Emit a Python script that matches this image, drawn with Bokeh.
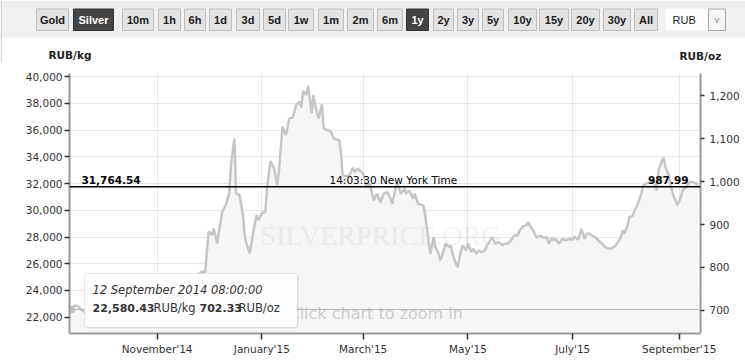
import pandas as pd
from bokeh.plotting import figure
from bokeh.models import (Range1d, LinearAxis, FixedTicker, NumeralTickFormatter,
                          Span, Label, BoxAnnotation, ColumnDataSource)
from bokeh.embed import file_html
from bokeh.resources import INLINE
from bokeh.core.properties import value

# ---------------- data ----------------
METALS = ["Gold", "Silver"]
PERIODS = ["10m", "1h", "6h", "1d", "3d", "5d", "1w", "1m", "2m", "6m", "1y",
           "2y", "3y", "5y", "10y", "15y", "20y", "30y", "All"]
SELECTED = ["Silver", "1y"]
CURRENCY = "RUB"
LEFT_UNIT = "RUB/kg"
RIGHT_UNIT = "RUB/oz"

DATES = [
    "2014-09-12", "2014-09-14", "2014-09-16", "2014-09-18", "2014-09-20", "2014-09-23",
    "2014-09-26", "2014-09-30", "2014-10-03", "2014-10-07", "2014-10-10", "2014-10-14",
    "2014-10-17", "2014-10-21", "2014-10-24", "2014-10-28", "2014-10-31", "2014-11-04",
    "2014-11-07", "2014-11-11", "2014-11-14", "2014-11-18", "2014-11-21", "2014-11-24",
    "2014-11-27", "2014-11-29", "2014-12-01", "2014-12-03", "2014-12-04", "2014-12-06",
    "2014-12-07", "2014-12-09", "2014-12-11", "2014-12-13", "2014-12-14", "2014-12-16",
    "2014-12-17", "2014-12-19", "2014-12-21", "2014-12-22", "2014-12-23", "2014-12-25",
    "2014-12-27", "2014-12-29", "2014-12-30", "2015-01-01", "2015-01-03", "2015-01-04",
    "2015-01-06", "2015-01-08", "2015-01-10", "2015-01-11", "2015-01-13", "2015-01-15",
    "2015-01-17", "2015-01-19", "2015-01-21", "2015-01-23", "2015-01-24", "2015-01-25",
    "2015-01-27", "2015-01-28", "2015-01-30", "2015-01-31", "2015-02-01", "2015-02-03",
    "2015-02-05", "2015-02-06", "2015-02-08", "2015-02-10", "2015-02-12", "2015-02-13",
    "2015-02-15", "2015-02-16", "2015-02-17", "2015-02-19", "2015-02-21", "2015-02-23",
    "2015-02-24", "2015-02-26", "2015-02-27", "2015-03-01", "2015-03-03", "2015-03-05",
    "2015-03-07", "2015-03-09", "2015-03-11", "2015-03-13", "2015-03-15", "2015-03-17",
    "2015-03-18", "2015-03-20", "2015-03-21", "2015-03-23", "2015-03-25", "2015-03-26",
    "2015-03-28", "2015-03-30", "2015-03-31", "2015-04-02", "2015-04-05", "2015-04-06",
    "2015-04-08", "2015-04-09", "2015-04-11", "2015-04-12", "2015-04-14", "2015-04-15",
    "2015-04-16", "2015-04-18", "2015-04-20", "2015-04-21", "2015-04-22", "2015-04-24",
    "2015-04-25", "2015-04-27", "2015-04-28", "2015-04-30", "2015-05-01", "2015-05-03",
    "2015-05-04", "2015-05-06", "2015-05-07", "2015-05-09", "2015-05-11", "2015-05-12",
    "2015-05-14", "2015-05-15", "2015-05-17", "2015-05-19", "2015-05-21", "2015-05-22",
    "2015-05-24", "2015-05-26", "2015-05-28", "2015-05-30", "2015-05-31", "2015-06-02",
    "2015-06-04", "2015-06-05", "2015-06-06", "2015-06-08", "2015-06-10", "2015-06-12",
    "2015-06-14", "2015-06-16", "2015-06-17", "2015-06-19", "2015-06-20", "2015-06-21",
    "2015-06-23", "2015-06-25", "2015-06-27", "2015-06-29", "2015-07-01", "2015-07-02",
    "2015-07-04", "2015-07-05", "2015-07-06", "2015-07-08", "2015-07-09", "2015-07-10",
    "2015-07-12", "2015-07-14", "2015-07-16", "2015-07-18", "2015-07-20", "2015-07-22",
    "2015-07-24", "2015-07-26", "2015-07-28", "2015-07-29", "2015-07-30", "2015-07-31",
    "2015-08-02", "2015-08-03", "2015-08-05", "2015-08-06", "2015-08-08", "2015-08-10",
    "2015-08-11", "2015-08-13", "2015-08-15", "2015-08-17", "2015-08-19", "2015-08-20",
    "2015-08-22", "2015-08-23", "2015-08-24", "2015-08-26", "2015-08-27", "2015-08-29",
    "2015-08-31", "2015-09-02", "2015-09-03", "2015-09-05", "2015-09-07", "2015-09-09",
    "2015-09-11", "2015-09-12",
]

RUB_PER_KG = [
    22580.43, 22880, 22820, 22550, 22400, 22500,
    22350, 21950, 21750, 22150, 22350, 22650,
    22750, 22500, 22400, 22700, 22550, 22250,
    23300, 23550, 24050, 24250, 24700, 25100,
    25400, 25400, 28400, 28140, 28640, 27520,
    28400, 29890, 30390, 31270, 33380, 35380,
    31270, 31140, 29640, 28140, 27520, 26770,
    28400, 29640, 29270, 29770, 29890, 31640,
    33680, 33140, 31890, 33010, 36260, 35630,
    36880, 36940, 37880, 38130, 37680, 38930,
    38630, 39330, 37260, 38630, 37880, 36880,
    37930, 36130, 36010, 35930, 35380, 35310,
    35260, 34390, 32640, 32520, 32640, 33190,
    32890, 33120, 32990, 32740, 31740, 31990,
    30740, 31240, 30610, 31240, 31360, 30870,
    30490, 31740, 31990, 31240, 31620, 31240,
    31490, 30870, 31240, 30490, 30370, 29740,
    27740, 26750, 27990, 27240, 26750, 26250,
    26620, 27500, 27240, 27370, 26750, 26000,
    25750, 27000, 27370, 27000, 27500, 26870,
    27120, 26750, 27000, 26870, 27000, 27370,
    27740, 27990, 27500, 27620, 27370, 27500,
    27500, 27740, 28120, 28120, 28490, 28790,
    28870, 29120, 28870, 28490, 27950, 28120,
    27950, 27990, 27500, 27950, 27740, 27870,
    27500, 27870, 27740, 27870, 27800, 28040,
    27800, 28120, 28620, 27870, 28190, 28290,
    28120, 27990, 27740, 27500, 27240, 27120,
    27170, 27370, 27740, 27950, 28490, 28250,
    28870, 29490, 29620, 29990, 30490, 31240,
    31860, 31990, 32110, 32240, 31490, 32990,
    33740, 33940, 33240, 32610, 31860, 30990,
    30370, 30990, 31490, 31740, 32110, 32110,
    31990, 31860,
]

CURRENT_PRICE_KG = 31764.54
CURRENT_TIME = "14:03:30 New York Time"
TOOLTIP_CLOCK = "08:00:00"
OZ_PER_KG = 32.1507466

LEFT_TICKS = [22000, 24000, 26000, 28000, 30000, 32000, 34000, 36000, 38000, 40000]
RIGHT_TICKS = [700, 800, 900, 1000, 1100, 1200]
X_TICK_DATES = ["2014-11-01", "2015-01-01", "2015-03-01", "2015-05-01", "2015-07-01", "2015-09-01"]
X_TICK_LABELS = ["November'14", "January'15", "March'15", "May'15", "July'15", "September'15"]

# ---------------- layout constants ----------------
W = 745
BAR_H = 62
CHART_H = 296
Y_MIN, Y_MAX = 20780, 40240
X_START = pd.Timestamp("2014-09-11 00:00").to_pydatetime()
X_END = pd.Timestamp("2015-09-13 10:00").to_pydatetime()

BUTTON_X0 = [36, 73, 122, 158, 184, 209, 236, 263, 288, 318, 347, 377, 406, 433, 457, 482, 508, 539, 571, 603, 634]
BUTTON_X1 = [68, 113, 153, 180, 205, 231, 259, 285, 313, 343, 373, 402, 428, 453, 478, 503, 536, 568, 599, 630, 657]

FONT = "DejaVu Sans"

# ---------------- top bar (buttons + unit titles) ----------------
bar = figure(width=W, height=BAR_H, x_range=Range1d(0, W), y_range=Range1d(BAR_H, 0),
             min_border=0, toolbar_location=None, output_backend="svg",
             x_axis_location=None, y_axis_location=None,
             background_fill_color="white", border_fill_color="white",
             outline_line_color=None)
bar.grid.visible = False

bar.quad(left=[0], right=[W], top=[0], bottom=[37], fill_color="#f0f0f0", line_color=None)
bar.quad(left=[0], right=[1.5], top=[0], bottom=[BAR_H], fill_color="#d8d8d8", line_color=None)

labels = METALS + PERIODS
sel = [lbl in SELECTED for lbl in labels]
bsrc = ColumnDataSource(dict(
    left=BUTTON_X0, right=BUTTON_X1,
    cx=[(a + b) / 2 for a, b in zip(BUTTON_X0, BUTTON_X1)],
    label=labels,
    fill=["#444444" if s else "#e3e3e3" for s in sel],
    line=["#333333" if s else "#bdbdbd" for s in sel],
    tcol=["#ffffff" if s else "#1a1a1a" for s in sel],
))
bar.quad(left="left", right="right", top=8.5, bottom=30, source=bsrc,
         fill_color="fill", line_color="line", line_width=1)
bar.text(x="cx", y=19.5, text="label", source=bsrc, text_color="tcol",
         text_font=value("Liberation Sans"), text_font_style="bold",
         text_font_size="11px", text_align="center", text_baseline="middle")
# currency selector
bar.quad(left=[665], right=[707], top=[8.5], bottom=[30], fill_color="white", line_color=None)
bar.text(x=[672], y=[19.5], text=[CURRENCY], text_font=value("Liberation Sans"),
         text_font_size="11px", text_color="#222222", text_baseline="middle")
bar.quad(left=[708], right=[725], top=[8.5], bottom=[30], fill_color="#f5f5f5", line_color="#a8a8a8")
bar.text(x=[716.5], y=[19.5], text=["v"], text_font=value("Liberation Sans"),
         text_font_size="9px", text_color="#888888", text_align="center", text_baseline="middle")
# unit titles of the two value axes
bar.text(x=[48, 679], y=[54.5, 55], text=[LEFT_UNIT, RIGHT_UNIT], text_font=value(FONT),
         text_font_style="bold", text_font_size="10.5px", text_color="#222222",
         text_baseline="middle")

# ---------------- chart ----------------
dates = pd.to_datetime(DATES)
src = ColumnDataSource(dict(date=dates, kg=RUB_PER_KG))

p = figure(width=W, height=CHART_H, x_axis_type="datetime",
           x_range=Range1d(X_START, X_END), y_range=Range1d(Y_MIN, Y_MAX),
           output_backend="svg", toolbar_location=None,
           min_border_left=69, min_border_right=45, min_border_top=11, min_border_bottom=25,
           background_fill_color="white", border_fill_color="white",
           outline_line_color=None)

p.extra_y_ranges = {"oz": Range1d(Y_MIN / OZ_PER_KG, Y_MAX / OZ_PER_KG)}
right_axis = LinearAxis(y_range_name="oz", ticker=FixedTicker(ticks=RIGHT_TICKS),
                        formatter=NumeralTickFormatter(format="0,0"))
p.add_layout(right_axis, "right")

tick_ms = [float(pd.Timestamp(d).value // 10**6) for d in X_TICK_DATES]
p.xaxis.ticker = FixedTicker(ticks=tick_ms)
p.xaxis.major_label_overrides = {ms: lbl for ms, lbl in zip(tick_ms, X_TICK_LABELS)}
p.yaxis[0].ticker = FixedTicker(ticks=LEFT_TICKS)
p.yaxis[0].formatter = NumeralTickFormatter(format="0,0")

for ax in p.axis:
    ax.axis_line_color = "#9a9a9a"
    ax.axis_line_width = 2
    ax.major_tick_line_color = "#333333"
    ax.major_tick_line_width = 1.5
    ax.major_tick_in = 0
    ax.minor_tick_out = 0
    ax.minor_tick_in = 0
    ax.major_label_text_font = FONT
    ax.major_label_text_font_size = "10.5px"
    ax.major_label_text_color = "#333333"
p.xaxis.major_tick_out = 6
p.xaxis.major_label_standoff = 3
p.yaxis[0].major_tick_out = 5
p.yaxis[0].major_label_standoff = 2
right_axis.major_tick_out = 4
right_axis.major_label_standoff = 5

p.grid.grid_line_color = "#e6e6e6"
p.grid.grid_line_width = 1

# area + line
p.varea(x="date", y1=0, y2="kg", source=src, fill_color="#f6f6f6")
p.line(x="date", y="kg", source=src, line_color="#c6c6c6", line_width=2.5)

# watermark and hint
p.add_layout(Label(x=191, y=98, x_units="screen", y_units="screen", text="SILVERPRICE.ORG",
                   text_font="Liberation Serif", text_font_size="28px",
                   text_color="#c8c8c8", text_alpha=0.25, text_baseline="middle"))
p.add_layout(Label(x=219, y=20, x_units="screen", y_units="screen", text="Click chart to zoom in",
                   text_font=FONT, text_font_size="16px", text_color="#cccccc",
                   text_baseline="middle"))

# crosshair at hovered point
p.add_layout(Span(location=RUB_PER_KG[0], dimension="width", line_color="#b5b5b5", line_width=1))
p.scatter(x=[dates[0]], y=[RUB_PER_KG[0]], size=8, fill_color="#c4c4c4", line_color=None)

# current price line and labels (text sits just above the line)
p.add_layout(Span(location=CURRENT_PRICE_KG, dimension="width", line_color="black", line_width=1.5))
LBL_OFF = 7
p.add_layout(Label(x=12, y=CURRENT_PRICE_KG, x_units="screen", y_offset=LBL_OFF,
                   text=f"{CURRENT_PRICE_KG:,.2f}", text_font=FONT, text_font_size="10.5px",
                   text_font_style="bold", text_color="black", text_baseline="alphabetic"))
p.add_layout(Label(x=260, y=CURRENT_PRICE_KG, x_units="screen", y_offset=LBL_OFF,
                   text=CURRENT_TIME, text_font=FONT, text_font_size="10.5px",
                   text_color="black", text_baseline="alphabetic"))
p.add_layout(Label(x=619, y=CURRENT_PRICE_KG, x_units="screen", y_offset=LBL_OFF,
                   text=f"{CURRENT_PRICE_KG / OZ_PER_KG:,.2f}", text_font=FONT,
                   text_font_size="10.5px", text_font_style="bold", text_color="black",
                   text_align="right", text_baseline="alphabetic"))

# tooltip
p.add_layout(BoxAnnotation(left=16, right=229, bottom=5, top=59,
                           left_units="screen", right_units="screen",
                           top_units="screen", bottom_units="screen",
                           fill_color="black", fill_alpha=0.08, line_color=None,
                           border_radius=3))
p.add_layout(BoxAnnotation(left=15, right=228, bottom=6, top=60,
                           left_units="screen", right_units="screen",
                           top_units="screen", bottom_units="screen",
                           fill_color="white", fill_alpha=0.95, line_color="#b0b0b0",
                           line_width=1, border_radius=3))
d0 = dates[0]
p.add_layout(Label(x=23, y=44, x_units="screen", y_units="screen",
                   text=f"{d0.day} {d0:%B %Y} {TOOLTIP_CLOCK}", text_font=FONT,
                   text_font_size="11.5px", text_font_style="italic", text_color="#333333",
                   text_baseline="middle"))
tip_parts = [(23, f"{RUB_PER_KG[0]:,.2f}", "bold"), (84, LEFT_UNIT, "normal"),
             (130, f"{RUB_PER_KG[0] / OZ_PER_KG:,.2f}", "bold"), (169, RIGHT_UNIT, "normal")]
for tx, txt, style in tip_parts:
    p.add_layout(Label(x=tx, y=26, x_units="screen", y_units="screen", text=txt,
                       text_font=FONT, text_font_size="11px" if style == "bold" else "11.5px",
                       text_font_style=style, text_color="#333333", text_baseline="middle"))

open("out.html", "w").write(file_html([bar, p], INLINE))
